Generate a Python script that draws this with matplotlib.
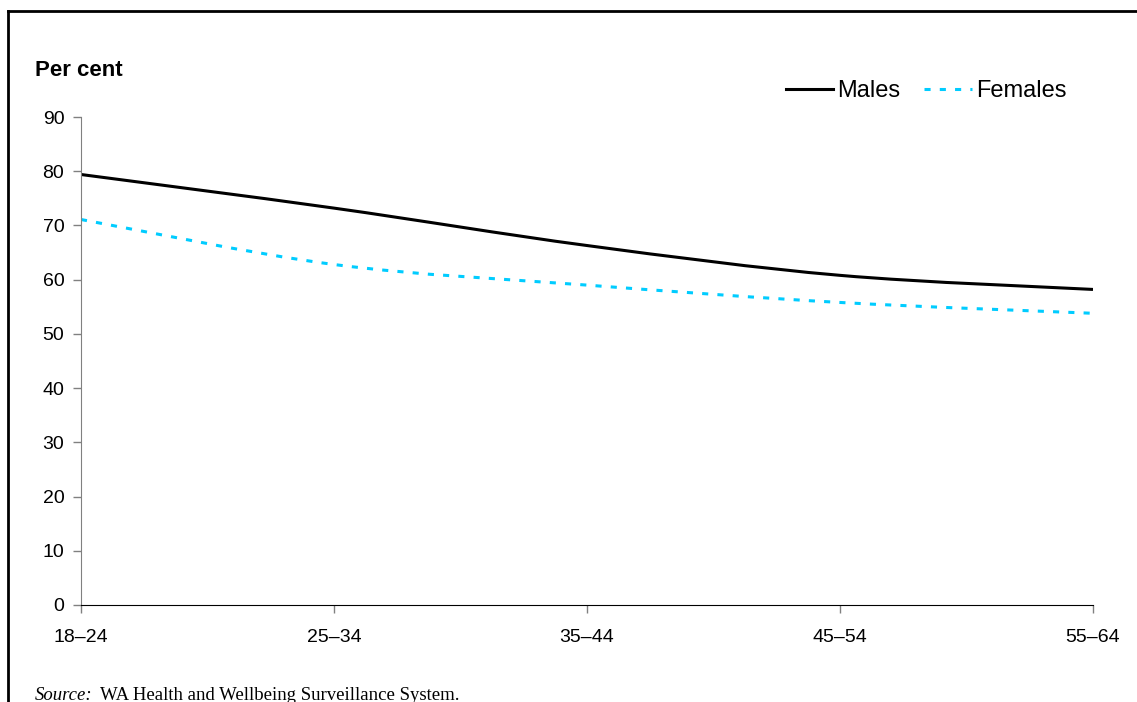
import numpy as np
import matplotlib.pyplot as plt
from matplotlib.path import Path
from matplotlib.patches import PathPatch
from matplotlib.lines import Line2D

# data
age_groups = ['18–24', '25–34', '35–44', '45–54', '55–64']
males = [79.4, 73.2, 66.3, 60.8, 58.2]
females = [71.1, 62.8, 59.0, 55.8, 53.8]
y_ticks = [0, 10, 20, 30, 40, 50, 60, 70, 80, 90]

plt.rcParams['font.family'] = ['Liberation Sans', 'DejaVu Sans']

FEMALE_DASH = (0, (2.0, 3.0))


def smooth_path(xs, ys):
    # catmull-rom style bezier through the points (like Excel's smoothed line)
    pts = np.column_stack([xs, ys]).astype(float)
    ext = np.vstack([pts[0], pts, pts[-1]])
    verts = [pts[0]]
    codes = [Path.MOVETO]
    for i in range(len(pts) - 1):
        p0, p1, p2, p3 = ext[i], ext[i + 1], ext[i + 2], ext[i + 3]
        verts += [p1 + (p2 - p0) / 6, p2 - (p3 - p1) / 6, p2]
        codes += [Path.CURVE4] * 3
    return Path(verts, codes)


fig = plt.figure(figsize=(11.37, 7.02), dpi=100)
ax = fig.add_axes([0.0712, 0.1382, 0.8901, 0.6951])

x = np.arange(len(age_groups))
ax.add_patch(PathPatch(smooth_path(x, males), fill=False, edgecolor='black', lw=2.2))
ax.add_patch(PathPatch(smooth_path(x, females), fill=False, edgecolor='#00CCFF', lw=2.2,
                       linestyle=FEMALE_DASH))

ax.set_xlim(0, 4)
ax.set_ylim(0, 90)
ax.set_yticks(y_ticks)
ax.set_xticks(x)
ax.set_xticklabels(age_groups)
ax.tick_params(axis='y', length=6, width=1, color='#808080', labelsize=14, pad=6)
ax.tick_params(axis='x', length=6, width=1, color='#808080', labelsize=14, pad=11)

for s in ['top', 'right']:
    ax.spines[s].set_visible(False)
ax.spines['left'].set_color('#808080')
ax.spines['bottom'].set_color('black')

fig.text(0.031, 1 - 71 / 702, 'Per cent', fontsize=16, fontweight='bold', va='center', ha='left')

handles = [Line2D([], [], color='black', lw=2.2),
           Line2D([], [], color='#00CCFF', lw=2.2, linestyle=FEMALE_DASH)]
fig.legend(handles, ['Males', 'Females'], loc='center left', bbox_to_anchor=(0.691, 1 - 91 / 702),
           ncol=2, frameon=False, fontsize=17, handlelength=2.0, handletextpad=0.2,
           columnspacing=1.0, borderpad=0, borderaxespad=0)

fig.text(0.031, 1 - 695 / 702, 'Source:', fontsize=13.5, family='Liberation Serif',
         style='italic', va='center', ha='left')
fig.text(100 / 1137, 1 - 695 / 702, 'WA Health and Wellbeing Surveillance System.',
         fontsize=13.5, family='Liberation Serif', va='center', ha='left')

# outer frame (top and left edges)
fig.add_artist(Line2D([8 / 1137, 1], [1 - 11 / 702, 1 - 11 / 702], color='black', lw=2,
                      transform=fig.transFigure))
fig.add_artist(Line2D([8 / 1137, 8 / 1137], [0, 1 - 11 / 702], color='black', lw=2,
                      transform=fig.transFigure))

fig.savefig('out.png', dpi=100)
